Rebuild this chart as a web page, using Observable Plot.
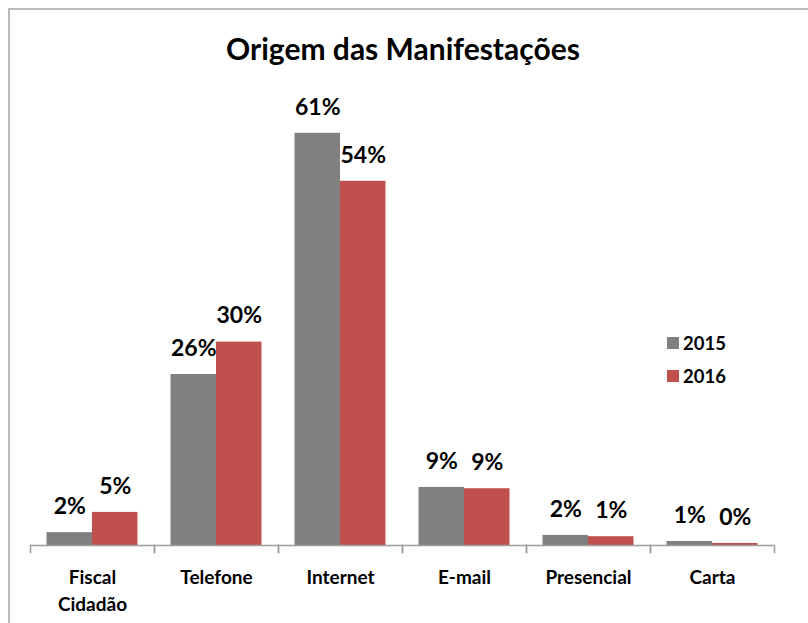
<!DOCTYPE html>
<html>
<head>
<meta charset="utf-8">
<script src="https://cdn.jsdelivr.net/npm/d3@7"></script>
<script src="https://cdn.jsdelivr.net/npm/@observablehq/plot@0.6"></script>
<style>
  html, body { margin: 0; padding: 0; background: #fff; }
  #wrap { position: relative; width: 808px; height: 623px; overflow: hidden; font-family: Lato, "Open Sans", sans-serif; }
  #chart { position: absolute; left: 0; top: 0; }
  #frame { position: absolute; left: 8px; top: 8px; width: 820px; height: 640px; border-left: 2px solid #bbbbbb; border-top: 2px solid #bbbbbb; pointer-events: none; }
  #title { position: absolute; left: 0; width: 806px; top: 30px; text-align: center; font-size: 30px; font-weight: 700; line-height: 1.2; color: #000; }
  #legend { position: absolute; left: 667px; top: 326px; font-size: 18.5px; font-weight: 700; color: #000; }
  .item { display: flex; align-items: center; height: 33px; }
  .sw { width: 12px; height: 12px; margin-right: 4px; }
</style>
</head>
<body>
<div id="wrap">
  <div id="chart"></div>
  <div id="title"></div>
  <div id="legend"></div>
  <div id="frame"></div>
</div>
<script>
const title = "Origem das Manifestações";
const categories = ["Fiscal Cidadão", "Telefone", "Internet", "E-mail", "Presencial", "Carta"];
const years = ["2015", "2016"];
const values2015 = [1.9, 25.3, 61, 8.6, 1.5, 0.6];
const values2016 = [4.9, 30.1, 53.9, 8.4, 1.3, 0.3];
const labels2015 = ["2%", "26%", "61%", "9%", "2%", "1%"];
const labels2016 = ["5%", "30%", "54%", "9%", "1%", "0%"];
const colors = ["#808080", "#c0504d"];

const data = [];
categories.forEach((c, i) => {
  data.push({category: c, year: years[0], value: values2015[i], label: labels2015[i]});
  data.push({category: c, year: years[1], value: values2016[i], label: labels2016[i]});
});

document.getElementById("title").textContent = title;
const legend = document.getElementById("legend");
years.forEach((y, i) => {
  const item = document.createElement("div");
  item.className = "item";
  const sw = document.createElement("div");
  sw.className = "sw";
  sw.style.background = colors[i];
  const t = document.createElement("span");
  t.textContent = y;
  item.appendChild(sw);
  item.appendChild(t);
  legend.appendChild(item);
});

const axisColor = "#9d9d9d";
const chart = Plot.plot({
  width: 808,
  height: 623,
  marginLeft: 30,
  marginRight: 34,
  marginTop: 72,
  marginBottom: 78,
  style: {fontFamily: "Lato, 'Open Sans', sans-serif", background: "transparent", color: "#000"},
  fx: {domain: categories, padding: 0, round: false, label: null},
  x: {domain: years, paddingInner: 0, paddingOuter: 0.363, round: false, axis: null},
  y: {domain: [0, 70], axis: null},
  color: {domain: years, range: colors},
  marks: [
    Plot.barY(data, {fx: "category", x: "year", y: "value", fill: "year"}),
    Plot.ruleY([0], {stroke: axisColor, strokeWidth: 1.5}),
    Plot.frame({anchor: "left", stroke: axisColor, strokeWidth: 1.5, insetTop: 473, insetBottom: -7}),
    Plot.frame({anchor: "right", stroke: axisColor, strokeWidth: 1.5, insetTop: 473, insetBottom: -7}),
    Plot.text(data, {fx: "category", x: "year", y: "value", text: "label", dy: -26, fontSize: 23, fontWeight: "bold", fill: "#000"}),
    Plot.axisFx({anchor: "bottom", tickSize: 0, tickPadding: 20.5, fontSize: 19, fontWeight: "bold", lineHeight: 1.37, fill: "#000", label: null, tickFormat: d => d.replace(" ", "\n")})
  ]
});
document.getElementById("chart").appendChild(chart);
</script>
</body>
</html>
